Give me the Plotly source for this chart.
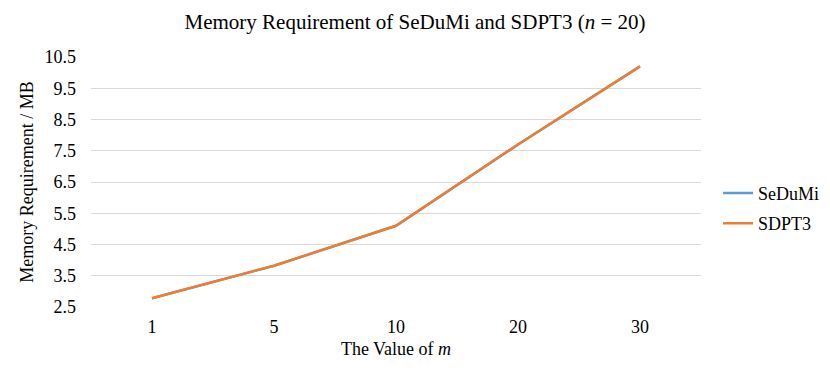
import plotly.graph_objects as go

FONT = "Liberation Serif"

m_values = ["1", "5", "10", "20", "30"]
sedumi_mb = [2.78, 3.82, 5.1, 7.7, 10.2]
sdpt3_mb = [2.78, 3.82, 5.1, 7.7, 10.2]

y_ticks = [2.5, 3.5, 4.5, 5.5, 6.5, 7.5, 8.5, 9.5, 10.5]


def _font(size):
    return dict(family=FONT, size=size, color="#000000")


fig = go.Figure()
fig.add_trace(go.Scatter(x=m_values, y=sedumi_mb, name="SeDuMi", mode="lines",
                         legendgroup="a",
                         line=dict(color="#5B9BD5", width=2.5)))
fig.add_trace(go.Scatter(x=m_values, y=sdpt3_mb, name="SDPT3", mode="lines",
                         legendgroup="b",
                         line=dict(color="#ED7D31", width=2.5)))

# the page body has an 8px margin, so margins are shifted to compensate
fig.update_layout(
    width=830, height=368,
    paper_bgcolor="white", plot_bgcolor="white",
    font=_font(18),
    title=dict(text="Memory Requirement of SeDuMi and SDPT3 (<i>n</i> = 20)",
               x=(415 - 8) / 830, xanchor="center", y=0.963, yanchor="middle",
               font=_font(21)),
    margin=dict(l=83, r=137, t=49, b=69),
    legend=dict(x=1.028, xanchor="left", y=0.395, yanchor="middle",
                font=_font(18), itemwidth=30, tracegroupgap=4,
                traceorder="grouped"),
    xaxis=dict(type="category", range=[-0.5, 4.5], automargin=False,
               showgrid=False, showline=False, ticks="",
               ticklabelstandoff=7,
               title=dict(text="The Value of <i>m</i>", standoff=6, font=_font(18)),
               tickfont=_font(18)),
    yaxis=dict(range=[2.5, 10.5], tickvals=y_ticks, automargin=False,
               ticktext=[f"{v:.1f}" for v in y_ticks],
               showgrid=True, gridcolor="#D9D9D9", gridwidth=1,
               zeroline=False, showline=False, ticks="",
               ticklabelstandoff=14,
               title=dict(text="Memory Requirement / MB", standoff=6, font=_font(18)),
               tickfont=_font(18)),
)

fig.write_html("out.html")
